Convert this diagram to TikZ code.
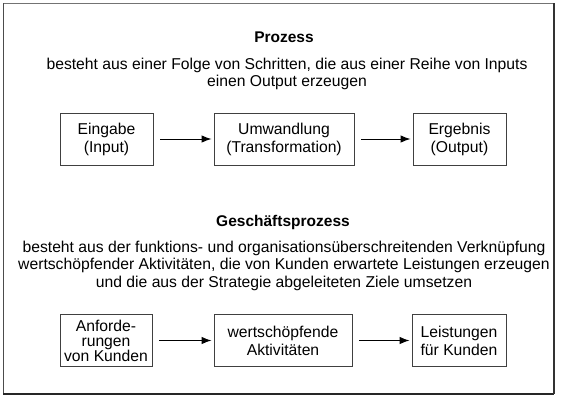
\documentclass[tikz,border=0pt]{standalone}
\usepackage{fontspec}
\setmainfont{Liberation Sans}
\usetikzlibrary{arrows.meta}
\begin{document}
\begin{tikzpicture}[x=1pt,y=-1pt,
  txt/.style={font=\fontsize{15.7}{17.5}\selectfont, align=center, inner sep=0pt},
  ttl/.style={font=\fontsize{15.5}{17.5}\selectfont\bfseries, inner sep=0pt},
  stepbox/.style={draw=black!75, line width=0.9pt, minimum height=52pt, inner sep=0pt, align=center, font=\fontsize{15.7}{18}\selectfont},
  flow/.style={draw=black, line width=1pt, -{Latex[length=10pt,width=7.5pt]}, shorten <=7pt, shorten >=2pt}
]
\useasboundingbox (0,0) rectangle (563,400);
\fill[white] (0,0) rectangle (563,400);
\draw[black!55, line width=0.8pt] (3,3) -- (554,3);
\draw[black!70, line width=1pt] (3,3) -- (3,394);
\draw[black!85, line width=1.4pt] (3,394) -- (554,394);
\draw[black!80, line width=1.4pt] (554,3) -- (554,394);

\node[ttl] (t1) at (284,37) {Prozess};
\node[txt] (d1) at (287,74) {besteht aus einer Folge von Schritten, die aus einer Reihe von Inputs\\einen Output erzeugen};

\node[stepbox, minimum width=93pt] (a1) at (106.5,139) {Eingabe\\(Input)};
\node[stepbox, minimum width=140pt] (a2) at (284,139) {Umwandlung\\(Transformation)};
\node[stepbox, minimum width=93pt] (a3) at (459.5,139) {Ergebnis\\(Output)};
\draw[flow] (a1) -- (a2);
\draw[flow] (a2) -- (a3);

\node[ttl] (t2) at (283,222) {Gesch\"aftsprozess};
\node[txt] (d2) at (284,265.5) {besteht aus der funktions- und organisations\"uberschreitenden Verkn\"upfung\\wertsch\"opfender Aktivit\"aten, die von Kunden erwartete Leistungen erzeugen\\und die aus der Strategie abgeleiteten Ziele umsetzen};

\node[stepbox, minimum width=92pt, font=\fontsize{15.7}{15}\selectfont] (b1) at (106,340.5) {Anforde-\\rungen\\von Kunden};
\node[stepbox, minimum width=138pt] (b2) at (283,340.5) {wertsch\"opfende\\Aktivit\"aten};
\node[stepbox, minimum width=94pt] (b3) at (459,340.5) {Leistungen\\f\"ur Kunden};
\draw[flow] (b1) -- (b2);
\draw[flow] (b2) -- (b3);
\end{tikzpicture}
\end{document}
